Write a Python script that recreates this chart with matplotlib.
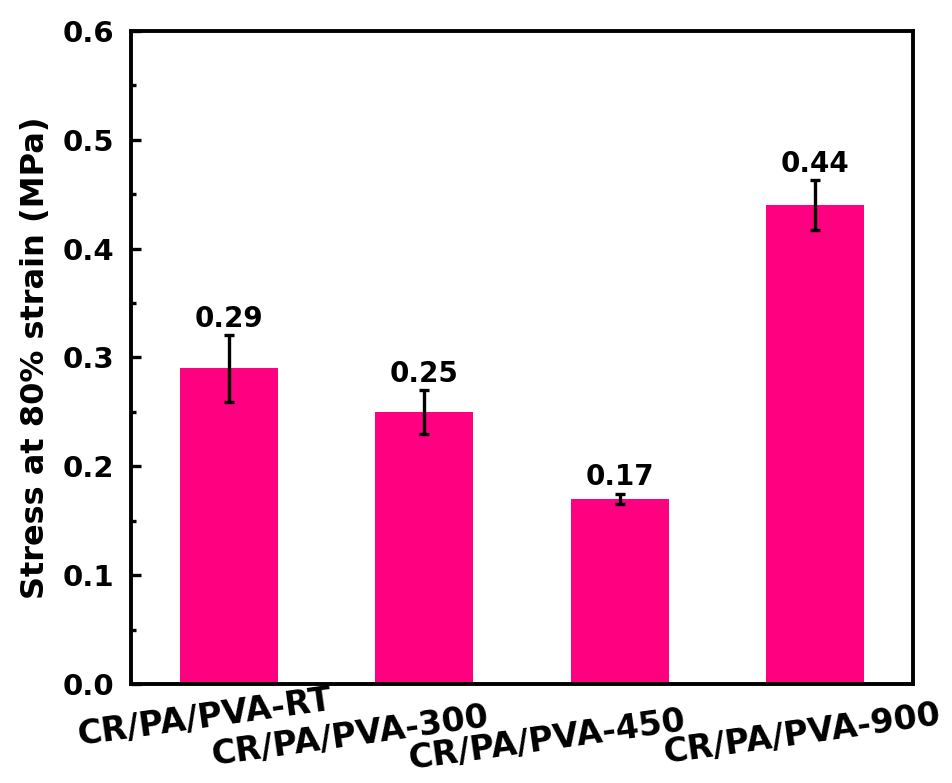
import matplotlib
matplotlib.use("Agg")
import matplotlib.pyplot as plt
from matplotlib.ticker import MultipleLocator
import numpy as np

categories = ["CR/PA/PVA-RT", "CR/PA/PVA-300", "CR/PA/PVA-450", "CR/PA/PVA-900"]
values = [0.29, 0.25, 0.17, 0.44]
errors = [0.031, 0.020, 0.005, 0.023]
value_labels = ["0.29", "0.25", "0.17", "0.44"]
yticks = [0.0, 0.1, 0.2, 0.3, 0.4, 0.5, 0.6]

# per-label offsets (pixels) reproducing the staggered tick labels
label_dx = [-24, -74, -73, -13]
label_dy = [-34, -52, -56, -50]

plt.rcParams['font.family'] = ['DejaVu Sans']
plt.rcParams['font.weight'] = 'bold'

fig = plt.figure(figsize=(9.52, 7.83), dpi=100)
ax = fig.add_axes([131/952, 1-684/783, (913-131)/952, (684-31)/783])

x = np.arange(len(categories))
ax.bar(x, values, width=0.5, color='#FF0080', zorder=2)
ax.errorbar(x, values, yerr=errors, fmt='none', ecolor='black',
            elinewidth=2.4, capsize=3.6, capthick=2.4, zorder=3)

for xi, v, e, t in zip(x, values, errors, value_labels):
    ax.annotate(t, xy=(xi, v + e), xytext=(0, 1.5), textcoords='offset points',
                ha='center', va='bottom', fontsize=20, fontweight='bold')

ax.set_xlim(-0.5, 3.5)
ax.set_ylim(0, 0.6)
ax.set_yticks(yticks)
ax.set_yticklabels([f"{t:.1f}" for t in yticks])
ax.yaxis.set_minor_locator(MultipleLocator(0.05))
ax.set_xticks(x)
ax.set_xticklabels([])

for xi, lab, dx, dy in zip(x, categories, label_dx, label_dy):
    ax.annotate(lab, xy=(xi, 0), xycoords=('data', 'axes fraction'),
                xytext=(dx, dy), textcoords='offset pixels',
                ha='center', va='center', rotation=8, rotation_mode='anchor',
                fontsize=24, fontweight='bold', annotation_clip=False)

ax.tick_params(axis='y', which='major', direction='in', length=7, width=2.4,
               labelsize=21, pad=12)
ax.tick_params(axis='y', which='minor', direction='in', length=3.5, width=2.4)
ax.tick_params(axis='x', which='major', direction='in', length=7, width=2.4)
for lab in ax.get_yticklabels():
    lab.set_fontweight('bold')

for s in ax.spines.values():
    s.set_linewidth(2.8)

ax.set_ylabel("Stress at 80% strain (MPa)", fontsize=23, fontweight='bold', labelpad=8)

fig.savefig("out.png", dpi=100)
